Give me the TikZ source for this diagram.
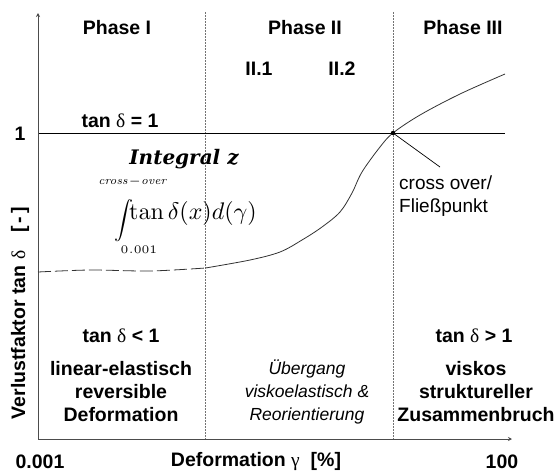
\documentclass[tikz,border=0pt]{standalone}
\usepackage[no-math]{fontspec}
\setmainfont{Liberation Sans}
\newfontfamily\grkfont{Liberation Serif}
\newfontfamily\titlefont{DejaVu Serif}
\usetikzlibrary{arrows.meta}
\newcommand{\dlt}{{\grkfont\mdseries δ}}
\newcommand{\gmm}{{\grkfont\mdseries γ}}
\begin{document}
\begin{tikzpicture}[x=1pt,y=-1pt,
  txtbold/.style={font=\fontsize{19.5}{23}\selectfont\bfseries, inner sep=0pt, align=center, text=black},
  txtital/.style={font=\fontsize{17.5}{23}\selectfont\itshape, inner sep=0pt, align=center, text=black},
  txtreg/.style={font=\fontsize{19}{22.5}\selectfont, inner sep=0pt, align=left, text=black},
  mathpart/.style={inner sep=0pt},
  axisline/.style={draw=black!70, line width=1pt, -{Stealth[length=4pt,width=4pt]}},
  divider/.style={draw=black!55, line width=0.7pt, dash pattern=on 1.6pt off 1.4pt},
  refline/.style={draw=black, line width=0.9pt},
  curveline/.style={draw=black!80, line width=0.8pt},
]
\useasboundingbox (0,0) rectangle (560,474);

% coordinates
\coordinate (orig) at (38,439);
\coordinate (ytop) at (38,13);
\coordinate (xend) at (512,439);
\coordinate (d1t) at (205.5,12);
\coordinate (d1b) at (205.5,439);
\coordinate (d2t) at (393,12);
\coordinate (d2b) at (393,439);
\coordinate (hl) at (38,133);
\coordinate (hr) at (505,133);
\coordinate (co) at (393,133);
\coordinate (ptrend) at (440,167);

% dividers
\draw[divider] (d1t) -- (d1b);
\draw[divider] (d2t) -- (d2b);

% reference line tan delta = 1
\draw[refline] (hl) -- (hr);

% axes
\draw[axisline] (orig) -- (ytop);
\draw[axisline] (orig) -- (xend);

% curve
\draw[curveline, dash pattern=on 13pt off 4pt] plot[smooth, tension=0.5] coordinates {(38,272) (90,270) (150,271) (205.5,268)};
\draw[curveline] plot[smooth, tension=0.55] coordinates {(205.5,268) (250,260) (280,252) (302,240) (322,227) (340,212) (352,193) (362,172) (380,147) (393,133) (420,115) (460,94) (505,74)};
\fill[black] (co) circle (2.2);

% pointer
\draw[refline, line width=0.7pt] (co) -- (ptrend);

% top labels
\node[txtbold] (ph1) at (117,28) {Phase I};
\node[txtbold] (ph2) at (305,28) {Phase II};
\node[txtbold] (ph3) at (463,28) {Phase III};
\node[txtbold] (p21) at (259,69) {II.1};
\node[txtbold] (p22) at (342,69) {II.2};
\node[txtbold] (teq) at (120,121) {tan \dlt\ = 1};
\node[txtbold] (one) at (20,134) {1};

% integral
\node[font=\titlefont\fontsize{20}{24}\selectfont\bfseries\itshape, inner sep=0pt] (intz) at (184,159) {Integral z};
\node[mathpart] (intsign) at (124,221) {\scalebox{1.9}{$\displaystyle\int$}};
\node[mathpart, anchor=west] (intg) at (129,213) {\scalebox{2.4}{$\tan\delta(x)d(\gamma)$}};
\node[mathpart] (uplim) at (133,182) {\scalebox{2.3}{$\scriptscriptstyle \mathit{cross}-\mathit{over}$}};
\node[mathpart] (lolim) at (139,250) {\scalebox{2.3}{$\scriptscriptstyle 0.001$}};

% cross over
\node[txtreg, anchor=north west] (cotxt) at (399,176) {cross over/\\Fließpunkt};

% y label
\node[txtbold, rotate=90] (ylab) at (20,313) {Verlustfaktor tan \dlt\hspace{18pt}[\,-\,]};

% lower labels
\node[txtbold] (tlt) at (121,336) {tan \dlt\ < 1};
\node[txtbold] (lin) at (121,392) {linear-elastisch\\reversible\\Deformation};
\node[txtital] (ueb) at (307,392) {Übergang\\viskoelastisch \&\\Reorientierung};
\node[txtbold] (tgt) at (474,336) {tan \dlt\ > 1};
\node[txtbold] (vis) at (476,392) {viskos\\struktureller\\Zusammenbruch};

% x axis labels
\node[txtbold] (x0) at (40,462) {0.001};
\node[txtbold] (xlab) at (256,462) {Deformation \gmm\ \ [\%]};
\node[txtbold] (x1) at (502,462) {100};
\end{tikzpicture}
\end{document}
